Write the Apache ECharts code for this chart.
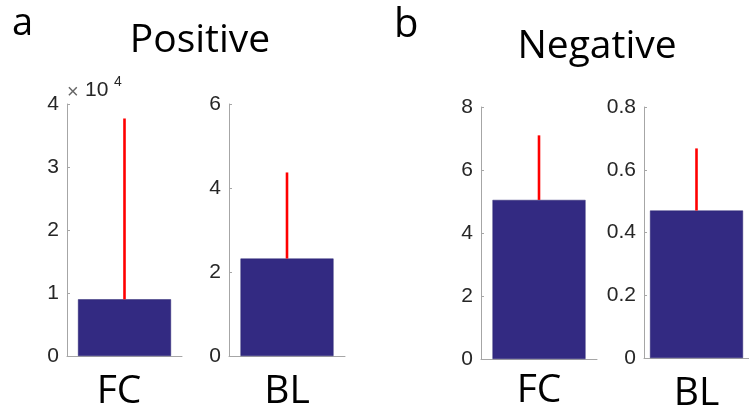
<!DOCTYPE html>
<html>
<head>
<meta charset="utf-8">
<script src="https://cdn.jsdelivr.net/npm/echarts@6/dist/echarts.min.js"></script>
<style>
  html, body { margin: 0; padding: 0; background: #fff; }
  #chart { width: 749px; height: 413px; }
</style>
</head>
<body>
<div id="chart"></div>
<script>
// Group means and the top of each error bar (mean + error)
const categories = ['FC', 'BL'];
const positiveMeans = [9000, 2.32];
const positiveUpper = [37700, 4.37];
const negativeMeans = [5.05, 0.47];
const negativeUpper = [7.1, 0.668];

// Y axis ranges per panel: [max, interval]
const yRanges = [[40000, 10000], [6, 2], [8, 2], [0.8, 0.2]];

const BAR_COLOR = '#332a82';
const ERR_COLOR = '#ff0000';
const AXIS_COLOR = '#a6a6a6';
const TEXT_COLOR = '#262626';
const LABEL_FONT = '"Liberation Sans", Arial, sans-serif';
const TITLE_FONT = '"Open Sans", "Noto Sans", sans-serif';

// Panel geometry: one small bar chart per grid
const grids = [
  { left: 67, top: 104, width: 115, height: 252 },
  { left: 229, top: 104, width: 116, height: 252 },
  { left: 481, top: 107, width: 116, height: 252 },
  { left: 644, top: 107, width: 116, height: 252 }
];

// gap below the x axis and horizontal nudge of each category label
const catMargins = [16, 16, 12, 16];
const catPadding = [[0, 11, 0, 0], [0, 0, 0, 0], [0, 0, 0, 0], [0, 0, 0, 0]];

const panels = [
  { cat: categories[0], mean: positiveMeans[0], upper: positiveUpper[0] },
  { cat: categories[1], mean: positiveMeans[1], upper: positiveUpper[1] },
  { cat: categories[0], mean: negativeMeans[0], upper: negativeUpper[0] },
  { cat: categories[1], mean: negativeMeans[1], upper: negativeUpper[1] }
];

const xAxes = [], yAxes = [], series = [];

panels.forEach(function (p, i) {
  xAxes.push({
    gridIndex: i,
    type: 'category',
    data: [p.cat],
    axisLine: { lineStyle: { color: AXIS_COLOR, width: 1 } },
    axisTick: { show: false },
    axisLabel: {
      color: '#000', fontFamily: TITLE_FONT, fontSize: 39,
      margin: catMargins[i], padding: catPadding[i]
    }
  });
  yAxes.push({
    gridIndex: i,
    type: 'value',
    min: 0,
    max: yRanges[i][0],
    interval: yRanges[i][1],
    splitLine: { show: false },
    axisLine: { show: true, lineStyle: { color: AXIS_COLOR, width: 1 } },
    axisTick: { show: true, inside: true, length: 3, lineStyle: { color: AXIS_COLOR } },
    axisLabel: {
      color: TEXT_COLOR, fontFamily: LABEL_FONT, fontSize: 21, margin: 8,
      formatter: i === 0 ? function (v) { return String(v / 10000); } : null
    }
  });
  series.push({
    type: 'bar',
    xAxisIndex: i,
    yAxisIndex: i,
    data: [p.mean],
    barWidth: 93,
    itemStyle: { color: BAR_COLOR, borderColor: '#2a2470', borderWidth: 0.5 },
    silent: true,
    z: 2
  });
  series.push({
    type: 'custom',
    xAxisIndex: i,
    yAxisIndex: i,
    data: [[0, p.mean, p.upper]],
    silent: true,
    z: 3,
    renderItem: function (params, api) {
      const a = api.coord([api.value(0), api.value(1)]);
      const b = api.coord([api.value(0), api.value(2)]);
      return {
        type: 'line',
        shape: { x1: a[0], y1: a[1], x2: b[0], y2: b[1] },
        style: { stroke: ERR_COLOR, lineWidth: 2.6 }
      };
    }
  });
});

function textBlock(text, left, top, size, family, color, extra) {
  return Object.assign({
    text: text, left: left, top: top, padding: 0,
    textStyle: { fontFamily: family, fontSize: size, fontWeight: 'normal', color: color }
  }, extra || {});
}

const chart = echarts.init(document.getElementById('chart'), null, { renderer: 'canvas' });
chart.setOption({
  animation: false,
  backgroundColor: '#fff',
  grid: grids,
  xAxis: xAxes,
  yAxis: yAxes,
  series: series,
  title: [
    textBlock('a', 12, 5, 38, TITLE_FONT, '#000'),
    textBlock('Positive', 200, 21, 39, TITLE_FONT, '#000', { textAlign: 'center' }),
    textBlock('b', 394, 6, 40, TITLE_FONT, '#000'),
    textBlock('Negative', 597, 27, 39, TITLE_FONT, '#000', { textAlign: 'center' }),
    // exponent marker of the first panel's y axis
    textBlock('×', 67, 82, 20, LABEL_FONT, '#666'),
    textBlock('10', 85, 80, 21, LABEL_FONT, TEXT_COLOR),
    textBlock('4', 114, 75, 14, LABEL_FONT, TEXT_COLOR)
  ]
});
</script>
</body>
</html>
